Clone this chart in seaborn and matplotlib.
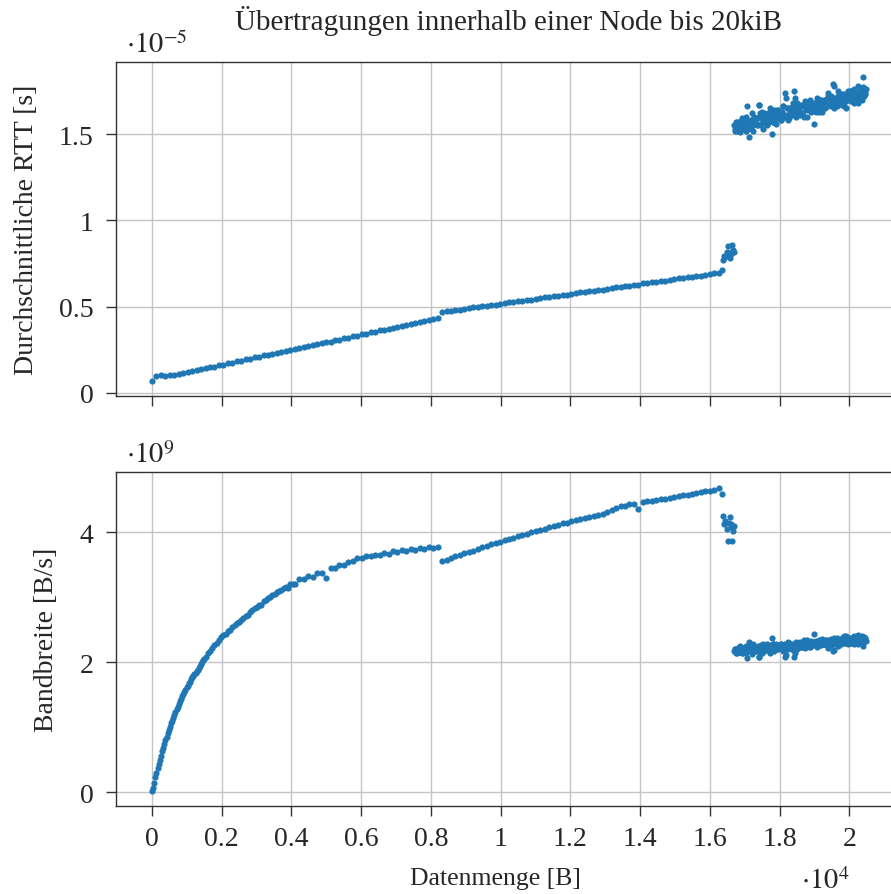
import numpy as np
import pandas as pd
import matplotlib
matplotlib.use("Agg")
import matplotlib.pyplot as plt
import seaborn as sns
from matplotlib.ticker import FuncFormatter, MultipleLocator

# Datenmenge [B] (Messraster)
x_rtt_a = [8] + list(np.arange(128, 8193, 128))
x_bw_a = [8] + list(np.arange(32, 1505, 32)) + list(np.arange(1536, 4033, 64)) + list(np.arange(4096, 8193, 128))
x_seg_b = list(np.arange(8320, 16257, 128)) + [16352]
x_trans = [16384, 16416, 16448, 16480, 16512, 16544, 16576, 16608, 16624, 16640, 16672, 16688]
x_noisy = list(np.arange(16704, 20481, 32))
x_noisy2 = list(np.arange(16720, 20465, 32))

# RTT in 1e-5 s
rtt_seg_a = [0.071, 0.100, 0.104, 0.101, 0.102, 0.106, 0.109, 0.115,
             0.121, 0.128, 0.130, 0.139, 0.142, 0.150, 0.153, 0.161,
             0.164, 0.173, 0.175, 0.184, 0.186, 0.195, 0.198, 0.206,
             0.209, 0.218, 0.220, 0.228, 0.231, 0.240, 0.242, 0.250,
             0.253, 0.262, 0.264, 0.273, 0.275, 0.284, 0.287, 0.295,
             0.298, 0.307, 0.309, 0.317, 0.320, 0.329, 0.331, 0.340,
             0.342, 0.351, 0.353, 0.362, 0.365, 0.373, 0.376, 0.384,
             0.387, 0.395, 0.398, 0.406, 0.409, 0.418, 0.420, 0.428,
             0.432]
rtt_seg_b = [0.468, 0.474, 0.475, 0.481, 0.482, 0.489, 0.490, 0.496,
             0.497, 0.503, 0.504, 0.511, 0.512, 0.518, 0.519, 0.525,
             0.526, 0.532, 0.533, 0.540, 0.541, 0.547, 0.548, 0.554,
             0.555, 0.562, 0.563, 0.569, 0.570, 0.576, 0.577, 0.584,
             0.585, 0.591, 0.592, 0.598, 0.599, 0.605, 0.606, 0.613,
             0.614, 0.620, 0.621, 0.627, 0.628, 0.635, 0.636, 0.642,
             0.643, 0.649, 0.650, 0.657, 0.658, 0.664, 0.665, 0.671,
             0.672, 0.678, 0.679, 0.686, 0.687, 0.693, 0.697, 0.714]
rtt_trans = [0.769, 0.795, 0.787, 0.814, 0.853, 0.797, 0.782, 0.804,
             0.859, 0.816, 0.829, 0.814]
rtt_noisy = [1.55, 1.52, 1.57, 1.55, 1.52, 1.57, 1.54, 1.59, 1.53, 1.57,
             1.52, 1.66, 1.56, 1.48, 1.55, 1.54, 1.62, 1.55, 1.58, 1.56,
             1.59, 1.55, 1.67, 1.62, 1.56, 1.59, 1.53, 1.62, 1.58, 1.61,
             1.59, 1.57, 1.65, 1.59, 1.50, 1.57, 1.62, 1.56, 1.64, 1.61,
             1.60, 1.63, 1.58, 1.62, 1.66, 1.60, 1.71, 1.61, 1.65, 1.59,
             1.65, 1.64, 1.61, 1.68, 1.71, 1.64, 1.64, 1.66, 1.63, 1.61,
             1.67, 1.62, 1.66, 1.69, 1.64, 1.60, 1.67, 1.65, 1.69, 1.64,
             1.67, 1.65, 1.68, 1.63, 1.71, 1.67, 1.65, 1.68, 1.70, 1.63,
             1.69, 1.70, 1.67, 1.66, 1.74, 1.67, 1.71, 1.66, 1.69, 1.78,
             1.67, 1.71, 1.66, 1.72, 1.71, 1.69, 1.73, 1.68, 1.71, 1.73,
             1.65, 1.72, 1.75, 1.71, 1.70, 1.75, 1.72, 1.68, 1.74, 1.74,
             1.72, 1.78, 1.71, 1.74, 1.70, 1.83, 1.75, 1.73, 1.76]
rtt_noisy2 = [1.53, 1.57, 1.52, 1.55, 1.57, 1.51, 1.56, 1.58, 1.54, 1.54,
              1.60, 1.56, 1.53, 1.57, 1.58, 1.56, 1.52, 1.60, 1.57, 1.59,
              1.55, 1.59, 1.67, 1.55, 1.63, 1.57, 1.59, 1.61, 1.57, 1.55,
              1.62, 1.60, 1.59, 1.62, 1.57, 1.64, 1.60, 1.59, 1.59, 1.64,
              1.62, 1.58, 1.63, 1.66, 1.61, 1.74, 1.60, 1.65, 1.58, 1.63,
              1.65, 1.62, 1.66, 1.75, 1.63, 1.60, 1.68, 1.65, 1.63, 1.66,
              1.62, 1.67, 1.60, 1.66, 1.65, 1.67, 1.64, 1.70, 1.63, 1.67,
              1.64, 1.56, 1.66, 1.66, 1.69, 1.63, 1.70, 1.68, 1.65, 1.68,
              1.70, 1.65, 1.69, 1.72, 1.67, 1.67, 1.72, 1.69, 1.79, 1.65,
              1.71, 1.69, 1.75, 1.68, 1.70, 1.71, 1.67, 1.73, 1.66, 1.70,
              1.69, 1.72, 1.71, 1.75, 1.69, 1.74, 1.71, 1.76, 1.71, 1.74,
              1.68, 1.70, 1.75, 1.74, 1.73, 1.77, 1.72, 1.74]

# Bandbreite in 1e9 B/s
bw_seg_a = [0.02,
            0.07, 0.15, 0.23, 0.30, 0.37, 0.43, 0.50, 0.56,
            0.63, 0.68, 0.75, 0.80, 0.85, 0.91, 0.96, 1.01,
            1.06, 1.10, 1.15, 1.19, 1.24, 1.28, 1.32, 1.36,
            1.41, 1.44, 1.48, 1.51, 1.55, 1.58, 1.62, 1.64,
            1.68, 1.70, 1.74, 1.77, 1.79, 1.82, 1.84, 1.87,
            1.89, 1.92, 1.94, 1.98, 2.00, 2.03, 2.05,
            2.08, 2.14, 2.18, 2.22, 2.26, 2.30, 2.34, 2.39,
            2.42, 2.44, 2.49, 2.50, 2.54, 2.57, 2.60, 2.62,
            2.66, 2.68, 2.72, 2.73, 2.77, 2.80, 2.83, 2.85,
            2.89, 2.88, 2.94, 2.96, 2.99, 3.01, 3.04, 3.06,
            3.08, 3.10, 3.12, 3.15, 3.16, 3.14, 3.20, 3.20,
            3.21, 3.28, 3.28, 3.33, 3.32, 3.38, 3.38, 3.30,
            3.46, 3.46, 3.50, 3.50, 3.55, 3.56, 3.61, 3.61,
            3.64, 3.63, 3.66, 3.66, 3.68, 3.67, 3.71, 3.70,
            3.73, 3.72, 3.75, 3.73, 3.76, 3.75, 3.78, 3.76,
            3.78]
bw_seg_b = [3.56, 3.58, 3.61, 3.63, 3.65, 3.68, 3.70, 3.72,
            3.75, 3.77, 3.79, 3.82, 3.84, 3.86, 3.88, 3.90,
            3.92, 3.94, 3.96, 3.98, 4.00, 4.02, 4.04, 4.06,
            4.08, 4.10, 4.12, 4.14, 4.15, 4.17, 4.19, 4.20,
            4.22, 4.24, 4.25, 4.27, 4.29, 4.31, 4.35, 4.38,
            4.40, 4.41, 4.43, 4.44, 4.36, 4.47, 4.48, 4.49,
            4.50, 4.51, 4.52, 4.53, 4.55, 4.56, 4.57, 4.58,
            4.59, 4.60, 4.62, 4.63, 4.64, 4.66, 4.68, 4.59]
bw_trans = [4.26, 4.13, 4.18, 4.05, 3.87, 4.15, 4.24, 4.13,
            3.87, 4.08, 4.02, 4.10]
bw_noisy = [2.17, 2.21, 2.14, 2.19, 2.23, 2.16, 2.20, 2.14, 2.22, 2.18,
            2.25, 2.06, 2.20, 2.31, 2.22, 2.25, 2.13, 2.23, 2.19, 2.22,
            2.18, 2.25, 2.09, 2.16, 2.25, 2.20, 2.29, 2.18, 2.24, 2.20,
            2.23, 2.26, 2.15, 2.24, 2.37, 2.28, 2.21, 2.29, 2.20, 2.24,
            2.26, 2.22, 2.29, 2.23, 2.19, 2.28, 2.12, 2.27, 2.21, 2.30,
            2.23, 2.24, 2.29, 2.19, 2.15, 2.25, 2.27, 2.24, 2.28, 2.31,
            2.23, 2.30, 2.26, 2.22, 2.29, 2.35, 2.25, 2.28, 2.24, 2.31,
            2.27, 2.30, 2.26, 2.33, 2.24, 2.29, 2.32, 2.28, 2.26, 2.36,
            2.29, 2.28, 2.32, 2.34, 2.22, 2.32, 2.28, 2.36, 2.31, 2.19,
            2.35, 2.31, 2.38, 2.29, 2.31, 2.34, 2.29, 2.36, 2.33, 2.30,
            2.41, 2.32, 2.28, 2.35, 2.37, 2.30, 2.34, 2.40, 2.32, 2.33,
            2.36, 2.28, 2.38, 2.34, 2.40, 2.25, 2.34, 2.37, 2.33]
bw_noisy2 = [2.20, 2.14, 2.21, 2.19, 2.16, 2.25, 2.18, 2.15, 2.21, 2.22,
             2.14, 2.20, 2.24, 2.19, 2.17, 2.22, 2.28, 2.17, 2.21, 2.18,
             2.24, 2.20, 2.09, 2.26, 2.15, 2.23, 2.22, 2.19, 2.25, 2.28,
             2.19, 2.21, 2.24, 2.20, 2.28, 2.18, 2.24, 2.25, 2.27, 2.20,
             2.23, 2.29, 2.22, 2.18, 2.26, 2.08, 2.28, 2.21, 2.31, 2.24,
             2.23, 2.27, 2.22, 2.09, 2.26, 2.31, 2.21, 2.25, 2.28, 2.24,
             2.30, 2.23, 2.35, 2.26, 2.28, 2.25, 2.30, 2.23, 2.33, 2.27,
             2.32, 2.43, 2.29, 2.31, 2.27, 2.35, 2.26, 2.29, 2.33, 2.30,
             2.28, 2.35, 2.29, 2.25, 2.32, 2.34, 2.27, 2.31, 2.18, 2.37,
             2.29, 2.33, 2.25, 2.35, 2.32, 2.31, 2.37, 2.30, 2.40, 2.35,
             2.36, 2.32, 2.34, 2.30, 2.38, 2.31, 2.36, 2.29, 2.37, 2.33,
             2.42, 2.39, 2.32, 2.34, 2.37, 2.31, 2.39, 2.36]

df_rtt = pd.DataFrame({
    "size": x_rtt_a + x_seg_b + x_trans + x_noisy + x_noisy2,
    "rtt": rtt_seg_a + rtt_seg_b + rtt_trans + rtt_noisy + rtt_noisy2,
})
df_bw = pd.DataFrame({
    "size": x_bw_a + x_seg_b + x_trans + x_noisy + x_noisy2,
    "bw": bw_seg_a + bw_seg_b + bw_trans + bw_noisy + bw_noisy2,
})

sns.set_style("whitegrid", {
    "grid.color": "#c4c4c4",
    "axes.edgecolor": "#333333",
    "xtick.bottom": True,
    "ytick.left": True,
})
plt.rcParams["font.family"] = ["Liberation Serif", "DejaVu Serif"]
plt.rcParams["mathtext.fontset"] = "stix"
plt.rcParams["axes.linewidth"] = 1.0
plt.rcParams["grid.linewidth"] = 1.0

W, H = 891, 895
fig = plt.figure(figsize=(W / 100, H / 100), dpi=100)
ax1 = fig.add_axes([116.3 / W, 1 - 396.7 / H, 785.4 / W, 334 / H])
ax2 = fig.add_axes([116.3 / W, 1 - 807 / H, 785.4 / W, 334 / H], sharex=ax1)

blue = "#1f77b4"
sns.scatterplot(data=df_rtt, x="size", y="rtt", ax=ax1, s=20, color=blue, linewidth=0)
sns.scatterplot(data=df_bw, x="size", y="bw", ax=ax2, s=20, color=blue, linewidth=0)

ax1.set_xlim(-1024, 21504)
ax1.set_ylim(-0.016, 1.919)
ax2.set_ylim(-0.21, 4.93)

ax1.xaxis.set_major_locator(MultipleLocator(2000))
ax1.yaxis.set_major_locator(MultipleLocator(0.5))
ax2.yaxis.set_major_locator(MultipleLocator(2))
fmt = FuncFormatter(lambda v, p: f"{v:g}")
ax2.xaxis.set_major_formatter(FuncFormatter(lambda v, p: f"{v / 1e4:g}"))
ax1.yaxis.set_major_formatter(fmt)
ax2.yaxis.set_major_formatter(fmt)

fs = 20
for ax in (ax1, ax2):
    ax.tick_params(axis="both", direction="out", length=7.5, width=1,
                   color="#333333", labelsize=fs, pad=7)
    ax.tick_params(axis="y", pad=9)
    ax.set_axisbelow(True)
ax1.tick_params(axis="x", labelbottom=False)

ax1.set_xlabel("")
ax1.set_ylabel("Durchschnittliche RTT [s]", fontsize=20, labelpad=14)
ax2.set_ylabel("Bandbreite [B/s]", fontsize=20, labelpad=15)
ax2.set_xlabel("")
fig.text(495 / W, 1 - 885 / H, "Datenmenge [B]", fontsize=18.5, ha="center", va="baseline")

fig.text(509 / W, 1 - 30 / H, "Übertragungen innerhalb einer Node bis 20kiB",
         fontsize=21, ha="center", va="baseline")
fig.text(126 / W, 1 - 53 / H, r"$\cdot10^{-5}$", fontsize=20.5, ha="left", va="baseline")
fig.text(126 / W, 1 - 463 / H, r"$\cdot10^{9}$", fontsize=20.5, ha="left", va="baseline")
fig.text(801 / W, 1 - 889 / H, r"$\cdot10^{4}$", fontsize=20.5, ha="left", va="baseline")

fig.savefig("out.png", dpi=100)
